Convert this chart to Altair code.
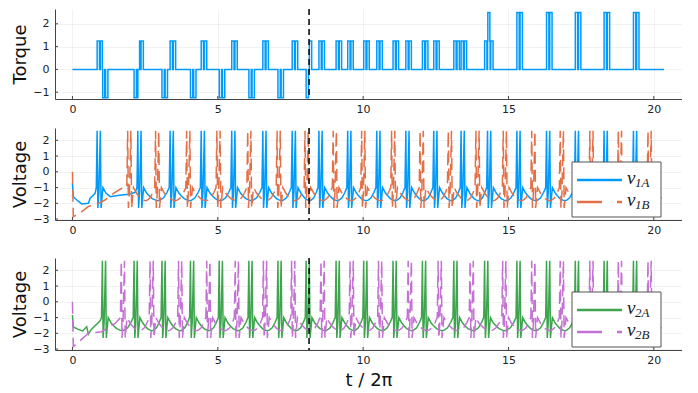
import altair as alt
import pandas as pd

# ---------------- data ----------------
T_END = 20.35          # last time sample (t / 2pi)
T_CTRL = 8.14          # control switch time (dashed line)
GAIN = 1.25            # torque pulse height
SPIKE_GAP = 0.11       # second spike of a burst after the first
PULSE_W = 0.08         # width of one torque pulse

x_ticks = [0, 5, 10, 15, 20]
torque_ticks = [-1, 0, 1, 2]
volt_ticks = [-3, -2, -1, 0, 1, 2]

# burst onset times of each neuron
v1A_bursts = [0.85, 2.25, 3.36, 4.43, 5.48, 6.55, 7.56, 8.48, 9.47, 10.47, 11.47,
              12.43, 13.37, 14.28, 15.29, 16.31, 17.30, 18.29, 19.30]
v1B_bursts = [1.90, 2.86, 3.93, 4.97, 6.03, 7.04, 8.00, 8.97, 9.95, 10.98, 11.96,
              12.93, 13.88, 14.82, 15.80, 16.78, 17.80, 18.78, 19.80]
v2A_bursts = [1.03, 2.12, 3.08, 4.06, 5.05, 6.07, 7.07, 8.04, 9.07, 10.02, 11.03,
              12.04, 13.12, 14.18, 15.29, 16.31, 17.30, 18.29, 19.30]
v2B_bursts = [1.68, 2.67, 3.65, 4.62, 5.60, 6.57, 7.54, 8.55, 9.55, 10.53, 11.55,
              12.58, 13.68, 14.80, 15.80, 16.78, 17.80, 18.78, 19.80]

# initial transients (before the first burst)
v1A_start_t = [0.0, 0.03, 0.15, 0.32, 0.55, 0.61, 0.78]
v1A_start_v = [-0.73, -1.58, -1.79, -2.04, -2.00, -1.68, -1.37]
v1B_start_t = [0.0, 0.03, 0.32, 0.55, 0.90, 1.12, 1.41, 1.70]
v1B_start_v = [0.0, -2.85, -2.53, -2.20, -2.00, -1.79, -1.37, -1.05]
v2A_start_t = [0.0, 0.03, 0.20, 0.35, 0.49, 0.55, 0.65, 0.95]
v2A_start_v = [-0.84, -1.60, -1.75, -1.85, -1.58, -2.05, -1.75, -1.20]
v2B_start_t = [0.0, 0.03, 0.55, 1.00, 1.47]
v2B_start_v = [0.0, -2.85, -2.00, -1.90, -1.37]

# v1A between its first and second burst (shallow plateau)
v1A_gap1_t = [1.30, 1.50, 1.70, 1.95, 2.16]
v1A_gap1_v = [-1.58, -1.52, -1.47, -1.42, -1.30]

# burst waveform (time after onset, voltage)
spike_rel = [-0.03, 0.0, 0.025, 0.06, 0.11, 0.135, 0.20, 0.30]
spike_val = [-1.0, 2.6, -2.3, -1.3, 2.6, -2.3, -1.0, -1.35]
# inter-burst recovery arc (fraction of the gap, voltage)
arc_frac = [0.1, 0.25, 0.4, 0.5, 0.6, 0.75, 0.9]
arc_val = [-1.5, -1.7, -1.8, -1.83, -1.8, -1.65, -1.3]

BLUE, ORANGE, GREEN, PURPLE = "#009AFA", "#E36F47", "#3EA44E", "#C371D2"


def build_trace(start_t, start_v, bursts, name, overrides=None, period=1.0):
    overrides = overrides or {}
    ts, vs = [], []
    for t, v in zip(start_t, start_v):
        if t < bursts[0] + spike_rel[0]:
            ts.append(t)
            vs.append(v)
    for i, b in enumerate(bursts):
        for r, v in zip(spike_rel, spike_val):
            ts.append(b + r)
            vs.append(v)
        if i in overrides:
            gt, gv = overrides[i]
            ts.extend(gt)
            vs.extend(gv)
            continue
        nxt = bursts[i + 1] if i + 1 < len(bursts) else b + period
        a0, a1 = b + spike_rel[-1], nxt + spike_rel[0]
        for f, v in zip(arc_frac, arc_val):
            ts.append(a0 + f * (a1 - a0))
            vs.append(v)
    rows = [(t, v) for t, v in zip(ts, vs) if t <= T_END]
    df = pd.DataFrame(rows, columns=["t", "v"])
    df["i"] = range(len(df))
    df["s"] = name
    return df


def build_torque():
    pulses = []
    for b in v1A_bursts:
        for s in (b, b + SPIKE_GAP):
            pulses.append((s, s + PULSE_W, GAIN))
    for b in v2A_bursts:
        for s in (b, b + SPIKE_GAP):
            pulses.append((s, s + PULSE_W, GAIN if s >= T_CTRL else -GAIN))
    edges = sorted({0.0, T_END} | {p[0] for p in pulses} | {p[1] for p in pulses})
    edges = [e for e in edges if e <= T_END]
    pts = []
    for a, b in zip(edges[:-1], edges[1:]):
        val = sum(p[2] for p in pulses if p[0] <= a < p[1])
        pts.append((a, val))
        pts.append((b, val))
    df = pd.DataFrame(pts, columns=["t", "v"])
    df["i"] = range(len(df))
    return df


torque_df = build_torque()
d1A = build_trace(v1A_start_t, v1A_start_v, v1A_bursts, "v1A",
                  overrides={0: (v1A_gap1_t, v1A_gap1_v)})
d1B = build_trace(v1B_start_t, v1B_start_v, v1B_bursts, "v1B")
d2A = build_trace(v2A_start_t, v2A_start_v, v2A_bursts, "v2A")
d2B = build_trace(v2B_start_t, v2B_start_v, v2B_bursts, "v2B")

# ---------------- chart ----------------
W = 627
FONT = "DejaVu Sans"
xscale = alt.Scale(domain=[-0.6, 20.97], nice=False, zero=False)


def X(title=None):
    return alt.X("t:Q", scale=xscale,
                 axis=alt.Axis(values=x_ticks, format="d", title=title))


def Y(domain, ticks, title):
    return alt.Y("v:Q", scale=alt.Scale(domain=domain, nice=False, zero=False),
                 axis=alt.Axis(values=ticks, format="d", title=title))


one = pd.DataFrame({"k": [0]})
ctrl_df = pd.DataFrame({"t": [T_CTRL]})


def ticks_layers(H, ydom, yticks, ytitle, xtitle):
    xt = pd.DataFrame({"t": x_ticks})
    yt = pd.DataFrame({"v": yticks})
    a = alt.Chart(xt).mark_rule(color="#444", strokeWidth=1).encode(
        x=X(xtitle), y=alt.value(H), y2=alt.value(H - 3))
    b = alt.Chart(yt).mark_rule(color="#444", strokeWidth=1).encode(
        y=Y(ydom, yticks, ytitle), x=alt.value(0), x2=alt.value(3))
    return [a, b]


def ctrl_layer(xtitle):
    return alt.Chart(ctrl_df).mark_rule(color="#111", strokeWidth=1.6,
                                        strokeDash=[6, 4]).encode(x=X(xtitle))


def legend_layers(subs, colors):
    layers = [alt.Chart(one).mark_rect(fill="white", stroke="#555", strokeWidth=1).encode(
        x=alt.value(517), x2=alt.value(606), y=alt.value(34), y2=alt.value(89))]
    rows = [52, 74]
    for i, (sub, col) in enumerate(zip(subs, colors)):
        y = rows[i]
        if i == 0:
            m = alt.Chart(one).mark_rule(color=col, strokeWidth=2.6)
        else:
            m = alt.Chart(one).mark_rule(color=col, strokeWidth=2.6, strokeDash=[25, 15])
        layers.append(m.encode(x=alt.value(522), x2=alt.value(567), y=alt.value(y)))
        layers.append(alt.Chart(one).mark_text(
            text="v", font="Liberation Serif", fontStyle="italic", fontSize=19,
            align="left", baseline="middle", color="#222").encode(
            x=alt.value(572), y=alt.value(y - 2)))
        layers.append(alt.Chart(one).mark_text(
            text=sub, font="Liberation Serif", fontStyle="italic", fontSize=13,
            align="left", baseline="middle", color="#222").encode(
            x=alt.value(580), y=alt.value(y + 3)))
    return layers


# top panel
TD = [-1.30, 2.65]
top = alt.layer(
    alt.Chart(torque_df).mark_line(color=BLUE, strokeWidth=1.5).encode(
        x=X(), y=Y(TD, torque_ticks, "Torque"), order="i:Q"),
    ctrl_layer(None),
    *ticks_layers(90, TD, torque_ticks, "Torque", None),
).properties(width=W, height=90)

VD = [-3.06, 2.78]


def volt_panel(da, db, ca, cb, subs, xtitle):
    return alt.layer(
        alt.Chart(da).mark_line(color=ca, strokeWidth=1.5).encode(
            x=X(xtitle), y=Y(VD, volt_ticks, "Voltage"), order="i:Q"),
        alt.Chart(db).mark_line(color=cb, strokeWidth=1.5, strokeDash=[12, 6]).encode(
            x=X(xtitle), y=Y(VD, volt_ticks, "Voltage"), order="i:Q"),
        ctrl_layer(xtitle),
        *ticks_layers(92, VD, volt_ticks, "Voltage", xtitle),
        *legend_layers(subs, [ca, cb]),
    ).properties(width=W, height=92)


mid = volt_panel(d1A, d1B, BLUE, ORANGE, ["1A", "1B"], None)
bot = volt_panel(d2A, d2B, GREEN, PURPLE, ["2A", "2B"], "t / 2π")

chart = alt.vconcat(
    top,
    alt.vconcat(mid, bot, spacing=38, bounds="flush"),
    spacing=29, bounds="flush",
).properties(
    padding={"left": 3, "top": 0, "right": 0, "bottom": 2}
).configure_view(stroke=None).configure_axis(
    labelFont=FONT, labelFontSize=11, labelColor="#222",
    titleFont=FONT, titleFontSize=18, titleFontWeight="normal", titleColor="#111",
    domainColor="#444", domainWidth=1, ticks=False,
    gridColor="#000", gridOpacity=0.09, gridWidth=0.6,
).configure_axisX(labelPadding=4, titlePadding=6).configure_axisY(
    labelPadding=6, titlePadding=3)

chart.save("out.html", embed_options={"renderer": "svg", "actions": False})
